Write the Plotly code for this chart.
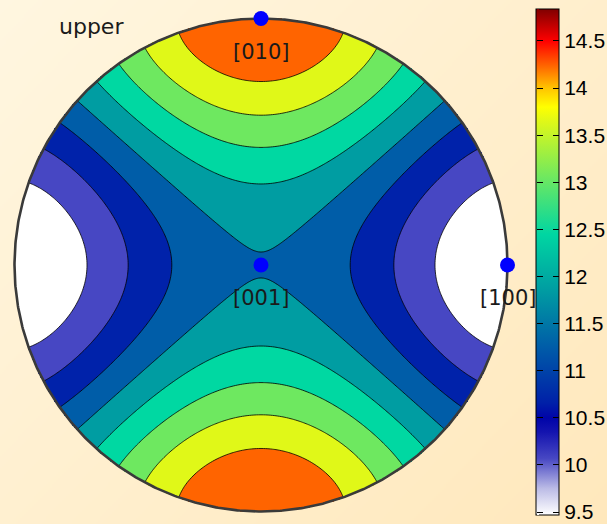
import math
import numpy as np
import plotly.graph_objects as go

# ---------------- data ----------------
directions = ["[100]", "[010]", "[001]"]
direction_vectors = [[1, 0, 0], [0, 1, 0], [0, 0, 1]]
principal_values = [9.47, 14.84, 11.84]      # property along [100], [010], [001]
hemisphere_label = "upper"
n_levels = 10                                # contour levels between min and max
band_colors = ["#ffffff", "#4747c3", "#0022aa", "#005da8", "#009da2",
               "#00d8a2", "#6ee860", "#e0f818", "#ff6400"]
cbar_tick_values = [9.5, 10, 10.5, 11, 11.5, 12, 12.5, 13, 13.5, 14, 14.5]
cbar_tick_text = ["9.5", "10", "10.5", "11", "11.5", "12", "12.5", "13", "13.5", "14", "14.5"]
cbar_anchor_values = [9.47, 9.75, 10.07, 10.35, 10.5, 10.66, 11.26, 11.86, 12.45,
                      13.05, 13.65, 13.8, 14.0, 14.24, 14.5, 14.84]
cbar_anchor_colors = ["#ffffff", "#bcbce6", "#4747c3", "#1414af", "#0004a8", "#0020a8",
                      "#005da8", "#009da2", "#00d6a2", "#6ee860", "#e0f818", "#ffff00",
                      "#ffc400", "#ff6400", "#ff0000", "#800000"]

# ---------------- geometry of the page ----------------
W, H = 607, 524
CX, CY, R = 261.0, 265.0, 246.5
xr = [-CX / R, (W - CX) / R]
yr = [-(H - CY) / R, CY / R]


def project(v):
    n = np.array(v, float)
    n = n / np.linalg.norm(n)
    th = math.acos(max(-1.0, min(1.0, n[2])))
    ph = math.atan2(n[1], n[0])
    r = math.sqrt(2) * math.sin(th / 2)
    return r * math.cos(ph), r * math.sin(ph)


# property field on the (equal-area) projected upper hemisphere
A, B, C = principal_values
vmin, vmax = min(principal_values), max(principal_values)
g = np.linspace(-1.03, 1.03, 221)
X, Y = np.meshgrid(g, g)
rr = np.hypot(X, Y)
th = 2 * np.arcsin(np.clip(rr / math.sqrt(2), 0, 1))
s = np.sin(th)
with np.errstate(invalid="ignore", divide="ignore"):
    n1 = np.where(rr > 0, s * X / rr, 0.0)
    n2 = np.where(rr > 0, s * Y / rr, 0.0)
n3 = np.cos(th)
Z = A * n1 ** 2 + B * n2 ** 2 + C * n3 ** 2

levels = np.linspace(vmin, vmax, n_levels)
step = levels[1] - levels[0]

nb = len(band_colors)
contour_scale = []
for i, c in enumerate(band_colors):
    contour_scale.append([i / nb, c])
    contour_scale.append([(i + 1) / nb, c])

fig = go.Figure()
fig.add_trace(go.Contour(
    x=g, y=g, z=np.round(Z, 4),
    contours=dict(start=float(levels[1]), end=float(levels[-2]), size=float(step),
                  coloring="fill", showlines=True),
    line=dict(color="black", width=0.8),
    colorscale=contour_scale, zmin=vmin, zmax=vmax, showscale=False,
    hoverinfo="skip", xaxis="x", yaxis="y"))

# background gradient mask covering everything outside the circle
cell = 2
nx, ny = int(math.ceil(W / cell)), int(math.ceil(H / cell))
pxs = np.arange(nx) * cell + cell / 2
pys = np.arange(ny) * cell + cell / 2
hx = (pxs - CX) / R
hy_pix = pys[::-1]                     # bottom row first
hy = (CY - hy_pix) / R
PX, PY = np.meshgrid(pxs, hy_pix)
HX, HY = np.meshgrid(hx, hy)
grad = 0.55 * PX / W + 0.45 * PY / H
mask = np.hypot(HX, HY) < 1 + 0.4 / R
zmask = np.where(mask, np.nan, np.round(grad, 3))
zlist = [[None if np.isnan(v) else float(v) for v in row] for row in zmask]
fig.add_trace(go.Heatmap(
    x=hx, y=hy, z=zlist, zmin=0, zmax=1,
    colorscale=[[0, "rgb(255,246,224)"], [1, "rgb(255,232,188)"]],
    showscale=False, hoverinfo="skip", zsmooth=False, xaxis="x2", yaxis="y2"))

# circle outline
t = np.linspace(0, 2 * np.pi, 721)
fig.add_trace(go.Scatter(x=np.cos(t), y=np.sin(t), mode="lines",
                         line=dict(color="#3a3a3a", width=2.6),
                         hoverinfo="skip", showlegend=False, xaxis="x2", yaxis="y2"))

# crystal directions
pts = [project(v) for v in direction_vectors]
fig.add_trace(go.Scatter(x=[p[0] for p in pts], y=[p[1] for p in pts], mode="markers",
                         marker=dict(color="#0000ff", size=15, line=dict(width=0)),
                         showlegend=False, hoverinfo="skip", xaxis="x2", yaxis="y2"))

# colorbar
span = vmax - vmin
cb_scale = [[(v - vmin) / span, c] for v, c in zip(cbar_anchor_values, cbar_anchor_colors)]
cb_scale[0][0] = 0.0
cb_scale[-1][0] = 1.0
cb_common = dict(xpad=0, y=1 - 261.9 / H, yanchor="middle", ypad=0,
                 lenmode="pixels", len=506, tickvals=cbar_tick_values, tickcolor="black")
fig.add_trace(go.Scatter(
    x=[0, 0], y=[0, 0], mode="markers",
    marker=dict(size=1, opacity=0, color=[vmin, vmax], cmin=vmin, cmax=vmax,
                colorscale=cb_scale, showscale=True,
                colorbar=dict(cb_common, x=536 / W, xanchor="left", thickness=23,
                              outlinewidth=1, outlinecolor="black",
                              ticks="inside", ticklen=6,
                              ticktext=cbar_tick_text, ticklabeloverflow="allow",
                              tickfont=dict(family="Liberation Sans", size=21, color="black"))),
    showlegend=False, hoverinfo="skip", xaxis="x2", yaxis="y2"))
# left-edge tick marks of the colorbar
fig.add_trace(go.Scatter(
    x=[0, 0], y=[0, 0], mode="markers",
    marker=dict(size=1, opacity=0, color=[vmin, vmax], cmin=vmin, cmax=vmax,
                colorscale=cb_scale, showscale=True,
                colorbar=dict(cb_common, x=537 / W, xanchor="left", thickness=0,
                              outlinewidth=0, ticks="outside", ticklen=6,
                              showticklabels=False)),
    showlegend=False, hoverinfo="skip", xaxis="x2", yaxis="y2"))

annotations = []
for name, p in zip(directions, pts):
    annotations.append(dict(x=p[0], y=p[1], xref="x2", yref="y2", text=name,
                            showarrow=False, yshift=-33,
                            font=dict(family="DejaVu Sans", size=21, color="#1a1a1a")))
annotations.append(dict(x=57 / W, y=1 - 26 / H, xref="paper", yref="paper",
                        xanchor="left", yanchor="middle", text=hemisphere_label,
                        showarrow=False,
                        font=dict(family="DejaVu Sans", size=22, color="#1a1a1a")))

ax = dict(visible=False, showgrid=False, zeroline=False, domain=[0, 1], fixedrange=True)
fig.update_layout(
    width=W, height=H, autosize=False,
    margin=dict(l=0, r=0, t=0, b=0, pad=0, autoexpand=False),
    paper_bgcolor="rgb(255,240,210)", plot_bgcolor="rgba(0,0,0,0)",
    showlegend=False,
    xaxis=dict(ax, range=xr),
    yaxis=dict(ax, range=yr),
    xaxis2=dict(ax, range=xr, overlaying="x"),
    yaxis2=dict(ax, range=yr, overlaying="y"),
    annotations=annotations,
)
fig.write_html("out.html", config={"displayModeBar": False},
               post_script="document.body.style.margin='0px';document.body.style.overflow='hidden';")
